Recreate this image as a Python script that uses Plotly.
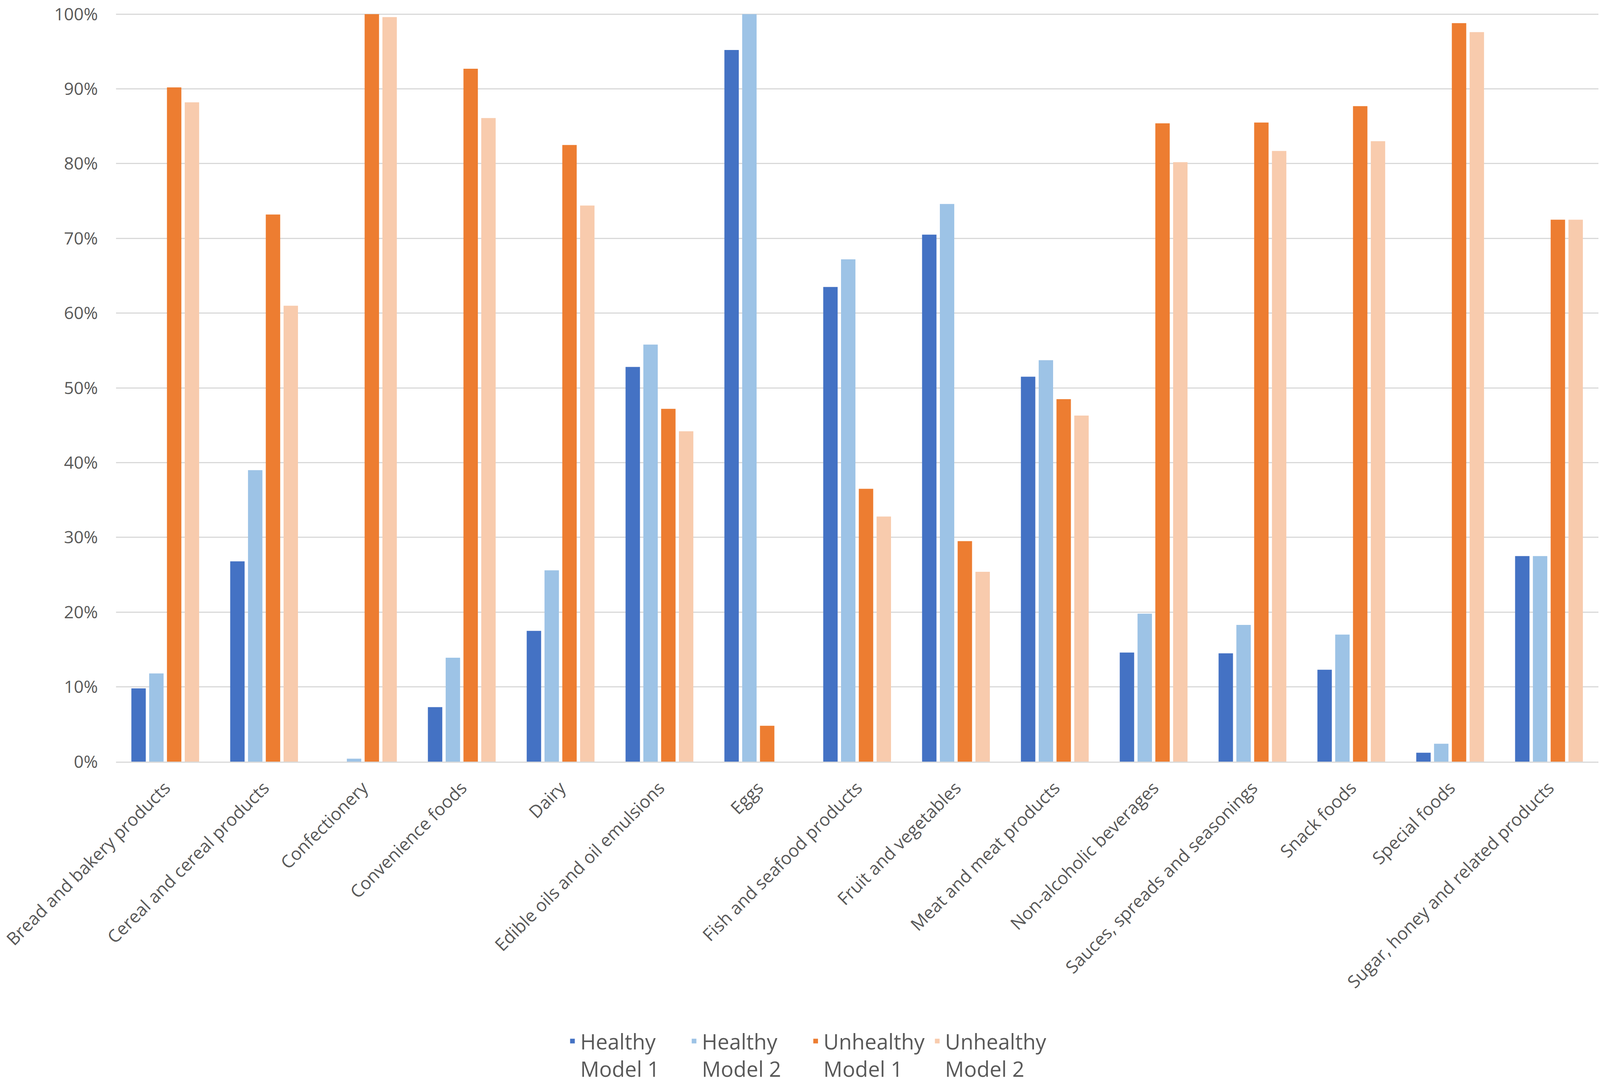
import plotly.graph_objects as go

categories = [
    "Bread and bakery products", "Cereal and cereal products", "Confectionery",
    "Convenience foods", "Dairy", "Edible oils and oil emulsions", "Eggs",
    "Fish and seafood products", "Fruit and vegetables", "Meat and meat products",
    "Non-alcoholic beverages", "Sauces, spreads and seasonings", "Snack foods",
    "Special foods", "Sugar, honey and related products",
]

healthy_m1 = [0.098, 0.268, 0.000, 0.073, 0.175, 0.528, 0.952, 0.635, 0.705, 0.515,
              0.146, 0.145, 0.123, 0.012, 0.275]
healthy_m2 = [0.118, 0.390, 0.004, 0.139, 0.256, 0.558, 1.000, 0.672, 0.746, 0.537,
              0.198, 0.183, 0.170, 0.024, 0.275]
unhealthy_m1 = [0.902, 0.732, 1.000, 0.927, 0.825, 0.472, 0.048, 0.365, 0.295, 0.485,
                0.854, 0.855, 0.877, 0.988, 0.725]
unhealthy_m2 = [0.882, 0.610, 0.996, 0.861, 0.744, 0.442, 0.000, 0.328, 0.254, 0.463,
                0.802, 0.817, 0.830, 0.976, 0.725]

series_names = ["Healthy<br>Model 1", "Healthy<br>Model 2",
                "Unhealthy<br>Model 1", "Unhealthy<br>Model 2"]
colors = ["#4472C4", "#9DC3E6", "#ED7D31", "#F8CBAD"]

y_tick_vals = [0.0, 0.1, 0.2, 0.3, 0.4, 0.5, 0.6, 0.7, 0.8, 0.9, 1.0]
y_tick_text = ["0%", "10%", "20%", "30%", "40%", "50%",
               "60%", "70%", "80%", "90%", "100%"]

text_color = "#595959"
grid_color = "#D9D9D9"

fig = go.Figure()
for name, vals, col in zip(series_names,
                           [healthy_m1, healthy_m2, unhealthy_m1, unhealthy_m2],
                           colors):
    fig.add_trace(go.Bar(x=categories, y=vals, name=name,
                         marker=dict(color=col, line=dict(width=0))))

# figure fills the window; plot area placed with domains (fractions)
fig.update_layout(
    autosize=True,
    barmode="group", bargap=0.28, bargroupgap=0.19,
    plot_bgcolor="white", paper_bgcolor="white",
    margin=dict(l=0, r=0, t=0, b=0),
    font=dict(family="Open Sans", size=45, color=text_color),
    showlegend=True,
    legend=dict(orientation="h", x=0.505, xanchor="center",
                yref="paper", y=0.0, yanchor="bottom",
                valign="top", font=dict(size=54, color=text_color),
                itemwidth=30, traceorder="normal",
                entrywidthmode="fraction", entrywidth=0.076),
)
# top of range a hair above 1 so the 100% tick and gridline are kept
fig.update_yaxes(domain=[0.298, 0.988], automargin=False,
                 range=[0, 1.0015], tickvals=y_tick_vals, ticktext=y_tick_text,
                 showgrid=True, gridcolor=grid_color, gridwidth=3,
                 zeroline=False, showline=False, ticklabelstandoff=45,
                 ticklabeloverflow="allow",
                 tickfont=dict(size=44, color=text_color))
fig.update_xaxes(domain=[0.0724, 0.999], automargin=False,
                 tickangle=-45, showline=True, linecolor=grid_color, linewidth=3,
                 ticks="", ticklabelstandoff=20,
                 tickfont=dict(size=45, color=text_color))

fig.write_html(
    "out.html",
    default_width="100%", default_height="100vh",
    config={"responsive": True, "displayModeBar": False},
    post_script="document.body.style.margin='0';"
                "document.body.style.overflow='hidden';"
                "Plotly.Plots.resize(document.getElementById('{plot_id}'));",
)
